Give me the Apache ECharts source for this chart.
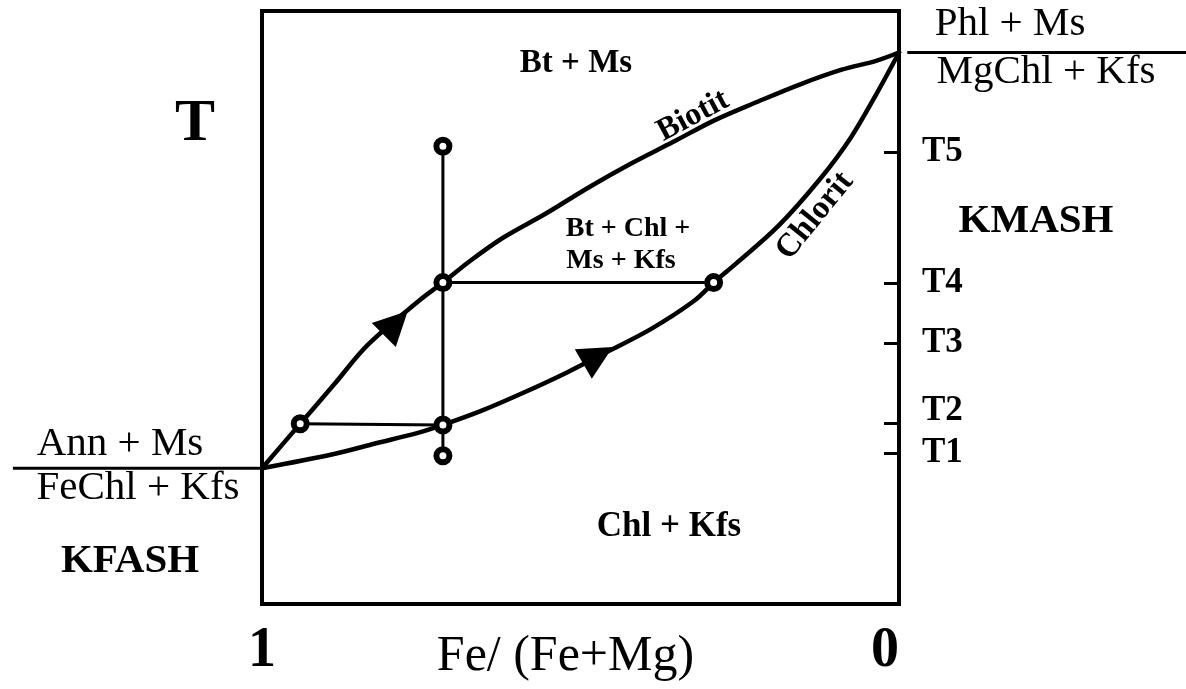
<!DOCTYPE html>
<html><head><meta charset="utf-8">
<script src="https://cdn.jsdelivr.net/npm/echarts@6/dist/echarts.min.js"></script>
<style>html,body{margin:0;padding:0;background:#fff}#c{width:1186px;height:689px}</style>
</head><body><div id="c"></div>
<script>
// Fe/(Fe+Mg) values (x) and temperature in relative units (T)
const biotiteX = [1.000, 0.940, 0.887, 0.834, 0.754, 0.716, 0.674, 0.621, 0.555, 0.488, 0.422, 0.355, 0.289, 0.222, 0.156, 0.090, 0.036, 0.000];
const biotiteT = [22.9, 30.4, 37.0, 43.7, 51.1, 54.2, 57.8, 61.8, 65.8, 70.2, 74.2, 77.9, 81.6, 84.7, 87.6, 90.1, 91.6, 93.0];
const chloritX = [1.000, 0.887, 0.821, 0.754, 0.716, 0.655, 0.588, 0.522, 0.455, 0.389, 0.322, 0.291, 0.256, 0.189, 0.123, 0.076, 0.036, 0.000];
const chloritT = [22.9, 25.3, 27.1, 28.9, 30.2, 32.6, 35.7, 39.0, 42.7, 46.4, 51.1, 54.2, 57.4, 63.8, 71.8, 78.6, 85.9, 93.0];
const pathVerticalX = [0.716, 0.716];
const pathVerticalT = [25.0, 77.2];
const isoT4X = [0.716, 0.291];
const isoT4T = [54.2, 54.2];
const isoT2X = [0.940, 0.716];
const isoT2T = [30.4, 30.2];
const leftDividerX = [1.0, 1.391];
const leftDividerT = [22.9, 22.9];
const rightDividerX = [-0.013, -0.451];
const rightDividerT = [93.0, 93.0];
const pointX = [0.940, 0.716, 0.291, 0.716, 0.716, 0.716];
const pointT = [30.4, 54.2, 54.2, 30.2, 77.2, 25.0];
const arrowX = [0.790, 0.4725];
const arrowT = [47.4, 41.9];
const arrowAngle = [-45, -60];
const tTickValues = [25.4, 30.4, 44.0, 54.1, 76.2];
const tTickLabels = ['T1', 'T2', 'T3', 'T4', 'T5'];
const xTickValues = [0, 1];
const xTickLabels = ['0', '1'];

const zip = (a, b) => a.map((v, i) => [v, b[i]]);
const SERIF = '"Liberation Serif", "Times New Roman", serif';
const blk = '#000';

function lineSeries(xs, ts, w, smooth) {
  return {
    type: 'line', data: zip(xs, ts), smooth: smooth ? 0.35 : false, symbol: 'none',
    silent: true, z: 3,
    lineStyle: { color: blk, width: w, cap: 'round', join: 'round', opacity: 1 }
  };
}
function txt(text, x, y, size, bold, rot) {
  return {
    type: 'text', x: x, y: y, rotation: rot || 0, z: 10,
    style: { text: text, font: (bold ? 'bold ' : '') + size + 'px ' + SERIF, fill: blk, align: 'center', verticalAlign: 'middle' }
  };
}

const chart = echarts.init(document.getElementById('c'), null, { renderer: 'canvas' });
const baseGraphic = [
  txt('T', 195, 124, 60, true),
  txt('Bt + Ms', 576, 63, 33, true),
  txt('Biotit', 693, 116, 32, true, 28 * Math.PI / 180),
  txt('Chlorit', 815, 216, 33, true, 51 * Math.PI / 180),
  txt('Bt + Chl +', 628, 229, 28, true),
  txt('Ms + Kfs', 621, 261, 28, true),
  txt('Chl + Kfs', 669, 527, 35, true),
  txt('KFASH', 130, 561, 41, true),
  txt('KMASH', 1036, 221, 41, true),
  txt('Ann + Ms', 120, 444, 41, false),
  txt('FeChl + Kfs', 138, 488, 41, false),
  txt('Phl + Ms', 1010, 24, 41, false),
  txt('MgChl + Kfs', 1046, 72, 41, false)
];
chart.setOption({
  animation: false,
  backgroundColor: '#fff',
  grid: { left: 262, right: 287, top: 11, bottom: 85, containLabel: false, outerBoundsMode: 'none',
          show: true, borderColor: blk, borderWidth: 4, backgroundColor: 'transparent' },
  xAxis: {
    type: 'value', min: 0, max: 1, inverse: true,
    axisLine: { show: false }, splitLine: { show: false },
    axisTick: { show: false },
    axisLabel: {
      customValues: xTickValues,
      formatter: v => xTickLabels[xTickValues.indexOf(v)],
      margin: 20, color: blk, fontSize: 56, fontWeight: 'bold', fontFamily: SERIF,
      alignMinLabel: 'right', alignMaxLabel: 'center'
    },
    name: 'Fe/ (Fe+Mg)', nameLocation: 'middle', nameGap: 28, nameMoveOverlap: false,
    nameTextStyle: { color: blk, fontSize: 50, fontFamily: SERIF, padding: [0, 30, 0, 0] }
  },
  yAxis: {
    type: 'value', min: 0, max: 100, position: 'right',
    axisLine: { show: false }, splitLine: { show: false },
    axisTick: { show: true, inside: true, length: 15, customValues: tTickValues, lineStyle: { color: blk, width: 3 } },
    axisLabel: {
      customValues: tTickValues,
      formatter: v => {
        const l = tTickLabels[tTickValues.indexOf(v)];
        return l === 'T2' ? '{up|' + l + '}' : l;
      },
      rich: { up: { fontSize: 35, fontWeight: 'bold', fontFamily: SERIF, color: blk, padding: [0, 0, 26, 0] } },
      margin: 23, color: blk, fontSize: 35, fontWeight: 'bold', fontFamily: SERIF
    }
  },
  series: [
    lineSeries(biotiteX, biotiteT, 4.5, true),
    lineSeries(chloritX, chloritT, 4.5, true),
    lineSeries(pathVerticalX, pathVerticalT, 3, false),
    lineSeries(isoT4X, isoT4T, 3, false),
    lineSeries(isoT2X, isoT2T, 3, false),
    {
      type: 'scatter', data: zip(pointX, pointT), symbol: 'circle', symbolSize: 13, z: 6, silent: true,
      itemStyle: { color: '#fff', borderColor: blk, borderWidth: 6, opacity: 1 }
    },
    {
      type: 'scatter', z: 5, silent: true, symbol: 'triangle', symbolSize: [34, 34],
      data: arrowX.map((x, i) => ({ value: [x, arrowT[i]], symbolRotate: arrowAngle[i] })),
      itemStyle: { color: blk, opacity: 1 }
    }
  ],
  graphic: baseGraphic
});

// Divider lines of the end-member reactions, placed through the axis scales
function dividerLine(xs, ts) {
  const p1 = chart.convertToPixel({ gridIndex: 0 }, [xs[0], ts[0]]);
  const p2 = chart.convertToPixel({ gridIndex: 0 }, [xs[1], ts[1]]);
  return { type: 'line', z: 4, shape: { x1: p1[0], y1: p1[1], x2: p2[0], y2: p2[1] }, style: { stroke: blk, lineWidth: 3 } };
}
chart.setOption({ graphic: baseGraphic.concat([dividerLine(leftDividerX, leftDividerT), dividerLine(rightDividerX, rightDividerT)]) }, { replaceMerge: ['graphic'] });
</script>
</body></html>
